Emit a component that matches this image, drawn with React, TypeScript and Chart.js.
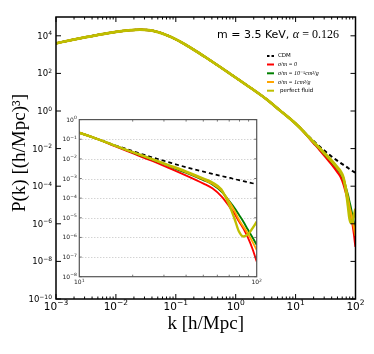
import React, { useEffect, useRef } from 'react';
import { Chart, registerables } from 'chart.js';

Chart.register(...registerables);

// log10(k) values shared by all models at low k
const lowLogK = [-3, -2.75, -2.5, -2.25, -2, -1.75, -1.6, -1.45, -1.3, -1.15, -1, -0.85, -0.7, -0.5, -0.25, 0, 0.25, 0.5, 0.75, 1.0, 1.1];
// log10(P) values shared by all models at low k
const lowLogP = [3.6, 3.77, 3.93, 4.08, 4.21, 4.3, 4.33, 4.3, 4.2, 4.03, 3.81, 3.55, 3.26, 2.85, 2.32, 1.78, 1.23, 0.66, 0.0, -0.67, -0.98];

// log10(k) values in the high-k tail where the models split
const tailLogK = [1.2, 1.3, 1.4, 1.5, 1.6, 1.7, 1.75, 1.8, 1.85, 1.875, 1.9, 1.925, 1.95, 1.975, 2.0];
const cdmTail = [-1.3, -1.6, -1.89, -2.16, -2.42, -2.65, -2.76, -2.87, -2.97, -3.03, -3.08, -3.13, -3.19, -3.24, -3.29];
const sigma0Tail = [-1.35, -1.71, -2.07, -2.45, -2.84, -3.26, -3.5, -3.9, -4.48, -4.8, -5.18, -5.55, -6.0, -6.55, -7.23];
const sigma1e5Tail = [-1.33, -1.67, -2.0, -2.35, -2.7, -3.08, -3.3, -3.65, -4.2, -4.5, -4.85, -5.2, -5.6, -5.98, -6.38];
const sigma1Tail = [-1.33, -1.66, -1.99, -2.33, -2.67, -3.05, -3.27, -3.6, -4.25, -4.65, -5.1, -5.45, -5.8, -6.2, -6.64];
const fluidTail = [-1.32, -1.65, -1.97, -2.3, -2.63, -3.0, -3.2, -3.55, -4.45, -5.05, -5.7, -5.95, -5.85, -5.55, -5.2];

const mainXTickExps = [-3, -2, -1, 0, 1, 2];
const mainYTickExps = [-10, -8, -6, -4, -2, 0, 2, 4];
const insetXTickExps = [1, 2];
const insetYTickExps = [0, -1, -2, -3, -4, -5, -6, -7, -8];

const seriesNames = ['CDM', 'σ/m = 0', 'σ/m = 10⁻⁵cm²/g', 'σ/m = 1cm²/g', 'perfect fluid'];
const seriesColors = ['#000000', '#ff0000', '#008000', '#ffa500', '#bfbf00'];
const titleSans = 'm = 3.5 KeV, ';
const titleMathSym = 'α';
const titleMathRest = ' = 0.126';
const xLabel = 'k [h/Mpc]';
const yLabel = 'P(k) [(h/Mpc)³]';

const SERIF = '"Liberation Serif", "DejaVu Serif", serif';
const SANS = '"DejaVu Sans", sans-serif';

function toPoints(tail: number[]) {
  const lk = lowLogK.concat(tailLogK);
  const lp = lowLogP.concat(tail);
  return lk.map((k, i) => ({ x: Math.pow(10, k), y: Math.pow(10, lp[i]) }));
}

function makeDatasets(scale: number) {
  const tails = [cdmTail, sigma0Tail, sigma1e5Tail, sigma1Tail, fluidTail];
  return tails.map((t, i) => ({
    label: seriesNames[i],
    data: toPoints(t),
    borderColor: seriesColors[i],
    backgroundColor: seriesColors[i],
    borderWidth: (i === 0 ? 2 : i === 4 ? 2.8 : 2.2) * scale,
    borderDash: i === 0 ? [4, 3] : [],
    pointRadius: 0,
    fill: false,
    cubicInterpolationMode: 'monotone' as const,
    order: 4 - i,
  }));
}

function drawPow(ctx: CanvasRenderingContext2D, exp: number, x: number, y: number, baseSize: number, expSize: number, raise: number, align: 'center' | 'right' | 'left') {
  const base = '10';
  const e = exp < 0 ? '\u2212' + Math.abs(exp) : String(exp);
  ctx.font = `${baseSize}px ${SANS}`;
  const wb = ctx.measureText(base).width;
  ctx.font = `${expSize}px ${SANS}`;
  const we = ctx.measureText(e).width;
  const total = wb + we;
  let start = x;
  if (align === 'center') start = x - total / 2;
  else if (align === 'right') start = x - total;
  ctx.textAlign = 'left';
  ctx.textBaseline = 'alphabetic';
  ctx.font = `${baseSize}px ${SANS}`;
  ctx.fillText(base, start, y);
  ctx.font = `${expSize}px ${SANS}`;
  ctx.fillText(e, start + wb, y - raise);
}

const mainDecor = {
  id: 'mainDecor',
  afterDatasetsDraw(chart: any) {
    const { ctx, chartArea: a } = chart;
    const xs = chart.scales.x;
    const ys = chart.scales.y;
    ctx.save();
    ctx.strokeStyle = '#000';
    ctx.lineWidth = 1.5;
    ctx.strokeRect(a.left, a.top, a.right - a.left, a.bottom - a.top);
    ctx.lineWidth = 1;
    ctx.beginPath();
    for (let e = -3; e < 2; e++) {
      for (let m = 1; m <= 9; m++) {
        const px = xs.getPixelForValue(m * Math.pow(10, e));
        const len = m === 1 ? 5 : 2.5;
        ctx.moveTo(px, a.bottom);
        ctx.lineTo(px, a.bottom - len);
        ctx.moveTo(px, a.top);
        ctx.lineTo(px, a.top + len);
      }
    }
    for (const e of mainYTickExps) {
      const py = ys.getPixelForValue(Math.pow(10, e));
      ctx.moveTo(a.left, py);
      ctx.lineTo(a.left + 5, py);
      ctx.moveTo(a.right, py);
      ctx.lineTo(a.right - 5, py);
    }
    ctx.stroke();

    ctx.fillStyle = '#000';
    for (const e of mainXTickExps) {
      const px = xs.getPixelForValue(Math.pow(10, e));
      drawPow(ctx, e, px, a.bottom + 11, 10.5, 7.5, 5, 'center');
    }
    for (const e of mainYTickExps) {
      const py = ys.getPixelForValue(Math.pow(10, e));
      drawPow(ctx, e, a.left - 4, py + 3, 8.5, 6, 3.5, 'right');
    }

    // axis labels
    ctx.font = `19px ${SERIF}`;
    ctx.textAlign = 'center';
    ctx.textBaseline = 'alphabetic';
    ctx.fillText(xLabel, (a.left + a.right) / 2, 329);
    ctx.save();
    ctx.translate(25, 153);
    ctx.rotate(-Math.PI / 2);
    ctx.fillText(yLabel, 0, 0);
    ctx.restore();

    // title annotation
    ctx.textAlign = 'left';
    ctx.font = `11px ${SANS}`;
    const t1 = ctx.measureText(titleSans).width;
    const tx = 217;
    const ty = 38;
    ctx.fillText(titleSans, tx, ty);
    ctx.font = `italic 12px ${SERIF}`;
    ctx.fillText(titleMathSym, tx + t1, ty);
    const t2 = ctx.measureText(titleMathSym).width;
    ctx.font = `12px ${SERIF}`;
    ctx.fillText(titleMathRest, tx + t1 + t2, ty);

    // legend
    const rows = [56, 64.5, 73.3, 82, 90.7];
    for (let i = 0; i < seriesNames.length; i++) {
      const ry = rows[i];
      ctx.beginPath();
      ctx.strokeStyle = seriesColors[i];
      ctx.lineWidth = i === 0 ? 1.8 : 2;
      ctx.setLineDash(i === 0 ? [2.5, 2] : []);
      ctx.moveTo(267, ry);
      ctx.lineTo(274, ry);
      ctx.stroke();
      ctx.setLineDash([]);
      ctx.fillStyle = '#000';
      ctx.textBaseline = 'middle';
      if (i === 0 || i === 4) ctx.font = `5.5px ${SANS}`;
      else ctx.font = `italic 6px ${SERIF}`;
      ctx.fillText(seriesNames[i], i === 4 ? 280 : 278, ry);
    }
    ctx.restore();
  },
};

const insetDecor = {
  id: 'insetDecor',
  beforeDatasetsDraw(chart: any) {
    const { ctx, chartArea: a } = chart;
    const ys = chart.scales.y;
    ctx.save();
    ctx.fillStyle = '#ffffff';
    ctx.fillRect(a.left, a.top, a.right - a.left, a.bottom - a.top);
    ctx.strokeStyle = '#b0b0b0';
    ctx.lineWidth = 0.8;
    ctx.setLineDash([1, 2]);
    ctx.beginPath();
    for (const e of insetYTickExps) {
      if (e === 0 || e === -8) continue;
      const py = Math.round(ys.getPixelForValue(Math.pow(10, e))) + 0.5;
      ctx.moveTo(a.left, py);
      ctx.lineTo(a.right, py);
    }
    ctx.stroke();
    ctx.restore();
  },
  afterDatasetsDraw(chart: any) {
    const { ctx, chartArea: a } = chart;
    const xs = chart.scales.x;
    const ys = chart.scales.y;
    ctx.save();
    ctx.strokeStyle = '#555';
    ctx.lineWidth = 1.2;
    ctx.strokeRect(a.left, a.top, a.right - a.left, a.bottom - a.top);
    ctx.lineWidth = 0.8;
    ctx.beginPath();
    for (let m = 2; m <= 9; m++) {
      const px = xs.getPixelForValue(m * 10);
      ctx.moveTo(px, a.bottom);
      ctx.lineTo(px, a.bottom - 2);
      ctx.moveTo(px, a.top);
      ctx.lineTo(px, a.top + 2);
    }
    for (const e of insetYTickExps) {
      const py = ys.getPixelForValue(Math.pow(10, e));
      ctx.moveTo(a.left, py);
      ctx.lineTo(a.left + 2.5, py);
      ctx.moveTo(a.right, py);
      ctx.lineTo(a.right - 2.5, py);
    }
    ctx.stroke();
    ctx.fillStyle = '#222';
    for (const e of insetXTickExps) {
      const px = xs.getPixelForValue(Math.pow(10, e));
      drawPow(ctx, e, px, a.bottom + 7.5, 6, 4.5, 2.5, 'center');
    }
    for (const e of insetYTickExps) {
      const py = ys.getPixelForValue(Math.pow(10, e));
      drawPow(ctx, e, a.left - 2.5, py + 2, 6, 4.5, 2.5, 'right');
    }
    ctx.restore();
  },
};

export default function App() {
  const mainRef = useRef<HTMLCanvasElement>(null);
  const insetRef = useRef<HTMLCanvasElement>(null);

  useEffect(() => {
    const mainChart = new Chart(mainRef.current as HTMLCanvasElement, {
      type: 'line',
      data: { datasets: makeDatasets(1) as any },
      options: {
        animation: false,
        responsive: false,
        maintainAspectRatio: false,
        devicePixelRatio: 1,
        layout: { padding: { left: 56, top: 17, right: 18.5, bottom: 55 } },
        scales: {
          x: { type: 'logarithmic', min: 1e-3, max: 1e2, display: false },
          y: { type: 'logarithmic', min: 1e-10, max: 1e5, display: false },
        },
        plugins: { legend: { display: false }, tooltip: { enabled: false } },
        events: [],
      },
      plugins: [mainDecor],
    });
    const insetChart = new Chart(insetRef.current as HTMLCanvasElement, {
      type: 'line',
      data: { datasets: makeDatasets(0.85) as any },
      options: {
        animation: false,
        responsive: false,
        maintainAspectRatio: false,
        devicePixelRatio: 1,
        layout: { padding: { left: 23.3, top: 9.6, right: 9.3, bottom: 18.3 } },
        scales: {
          x: { type: 'logarithmic', min: 10, max: 100, display: false },
          y: { type: 'logarithmic', min: 1e-8, max: 1, display: false },
        },
        plugins: { legend: { display: false }, tooltip: { enabled: false } },
        events: [],
      },
      plugins: [insetDecor],
    });
    return () => {
      mainChart.destroy();
      insetChart.destroy();
    };
  }, []);

  return (
    <div style={{ position: 'fixed', left: 0, top: 0, width: 374, height: 354, background: '#fff' }}>
      <canvas ref={mainRef} width={374} height={354} style={{ position: 'absolute', left: 0, top: 0, width: 374, height: 354 }} />
      <canvas ref={insetRef} width={210} height={185} style={{ position: 'absolute', left: 56, top: 110, width: 210, height: 185 }} />
    </div>
  );
}
